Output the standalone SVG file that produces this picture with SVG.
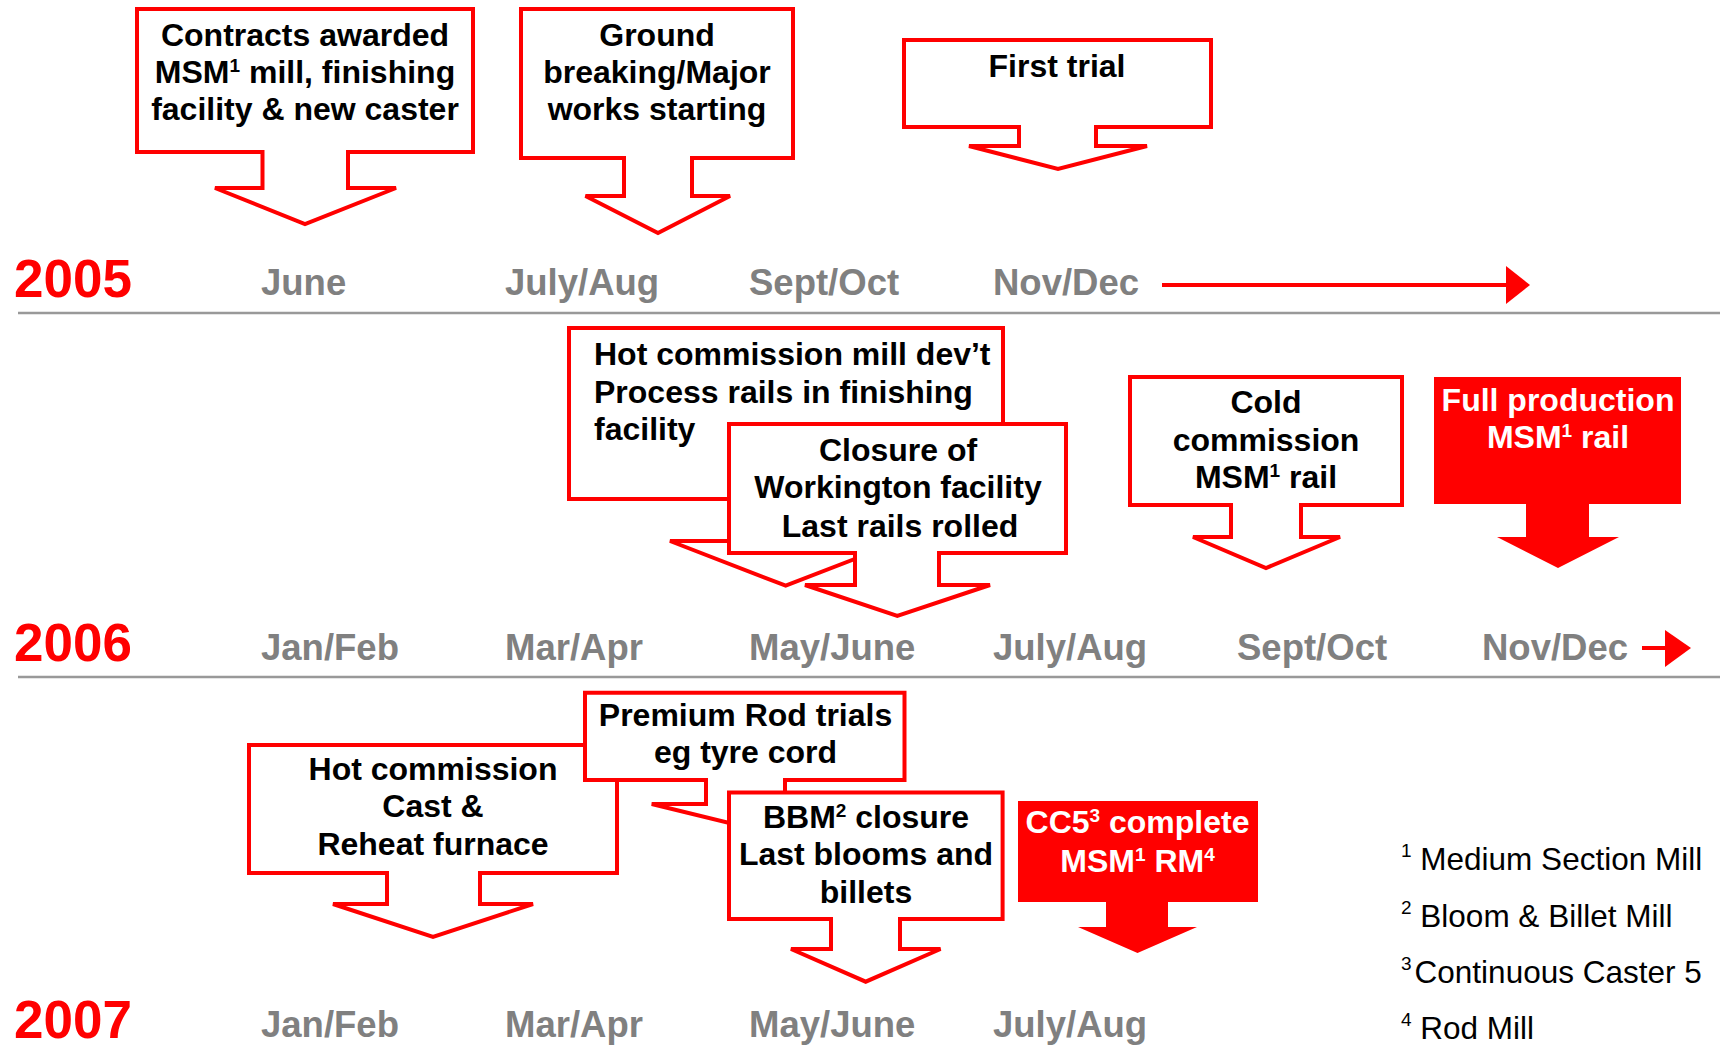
<svg xmlns="http://www.w3.org/2000/svg" width="1729" height="1045" viewBox="0 0 1729 1045">
<style>
.co{fill:#fff;stroke:#ff0000;stroke-width:4;stroke-linejoin:miter}
.cf{fill:#ff0000;stroke:none}
.t{font-family:"Liberation Sans",Arial,sans-serif;font-weight:bold;font-size:32px;fill:#000;text-anchor:middle}
.tl{text-anchor:start}
.tw{fill:#fff}
.yr{font-family:"Liberation Sans",Arial,sans-serif;font-weight:bold;font-size:53px;fill:#ff0000}
.mo{font-family:"Liberation Sans",Arial,sans-serif;font-weight:bold;font-size:36.5px;fill:#808080}
.sep{stroke:#999;stroke-width:2.5}
.lg{font-family:"Liberation Sans",Arial,sans-serif;font-size:31.5px;fill:#000}
.sup{font-size:19px}
.sb{font-size:19px}
</style>
<rect width="1729" height="1045" fill="#fff"/>

<g id="timeline">
<text class="yr" x="14" y="297">2005</text>
<text class="mo" x="261" y="295">June</text>
<text class="mo" x="505" y="295">July/Aug</text>
<text class="mo" x="749" y="295">Sept/Oct</text>
<text class="mo" x="993" y="295">Nov/Dec</text>
<line class="sep" x1="18" y1="313" x2="1720" y2="313"/>

<text class="yr" x="14" y="661">2006</text>
<text class="mo" x="261" y="660">Jan/Feb</text>
<text class="mo" x="505" y="660">Mar/Apr</text>
<text class="mo" x="749" y="660">May/June</text>
<text class="mo" x="993" y="660">July/Aug</text>
<text class="mo" x="1237" y="660">Sept/Oct</text>
<text class="mo" x="1482" y="660">Nov/Dec</text>
<line class="sep" x1="18" y1="677" x2="1720" y2="677"/>

<text class="yr" x="14" y="1038">2007</text>
<text class="mo" x="261" y="1037">Jan/Feb</text>
<text class="mo" x="505" y="1037">Mar/Apr</text>
<text class="mo" x="749" y="1037">May/June</text>
<text class="mo" x="993" y="1037">July/Aug</text>
</g>

<g id="connectors">
<line x1="1162" y1="285" x2="1510" y2="285" stroke="#ff0000" stroke-width="4"/>
<polygon points="1506,266 1530,285 1506,304" fill="#ff0000"/>
<line x1="1642" y1="648" x2="1668" y2="648" stroke="#ff0000" stroke-width="4"/>
<polygon points="1665,630 1691,648 1665,667" fill="#ff0000"/>
</g>

<g id="contracts">
<path class="co" d="M137,9 H473 V152 H348 V188 H396 L305,224 L215,188 H262.5 V152 H137 Z"/>
<text class="t" x="305" y="46">Contracts awarded</text>
<text class="t" x="305" y="83">MSM<tspan class="sup" dy="-11">1</tspan><tspan dy="11"> mill, finishing</tspan></text>
<text class="t" x="305" y="120">facility &amp; new caster</text>
</g>

<g id="ground-breaking">
<path class="co" d="M521,9 H793 V158 H692 V196 H730 L658,233 L585.5,196 H624 V158 H521 Z"/>
<text class="t" x="657" y="46">Ground</text>
<text class="t" x="657" y="83">breaking/Major</text>
<text class="t" x="657" y="120">works starting</text>
</g>

<g id="first-trial">
<path class="co" d="M904,40 H1211 V127 H1096 V146 H1147 L1058,169 L969,146 H1019 V127 H904 Z"/>
<text class="t" x="1057" y="77">First trial</text>
</g>

<g id="hot-commission-mill">
<path class="co" d="M569,328 H1003 V499 H826 V541 H901.4 L785.7,585.7 L670,541 H745 V499 H569 Z"/>
<text class="t tl" x="594" y="365">Hot commission mill dev’t</text>
<text class="t tl" x="594" y="403">Process rails in finishing</text>
<text class="t tl" x="594" y="440">facility</text>
</g>

<g id="closure-workington">
<path class="co" d="M729,424 H1066 V553 H939 V585 H990 L897.3,616 L805,585 H855 V553 H729 Z"/>
<text class="t" x="898" y="461">Closure of</text>
<text class="t" x="898" y="498">Workington facility</text>
<text class="t" x="900" y="537">Last rails rolled</text>
</g>

<g id="cold-commission">
<path class="co" d="M1130,377 H1402 V505 H1301 V537 H1340 L1266,568 L1193,537 H1231 V505 H1130 Z"/>
<text class="t" x="1266" y="413">Cold</text>
<text class="t" x="1266" y="451">commission</text>
<text class="t" x="1266" y="488">MSM<tspan class="sup" dy="-11">1</tspan><tspan dy="11"> rail</tspan></text>
</g>

<g id="full-production">
<path class="cf" d="M1434,377 H1681 V504 H1589 V537 H1619 L1558,568 L1497,537 H1526 V504 H1434 Z"/>
<text class="t tw" x="1558" y="411">Full production</text>
<text class="t tw" x="1558" y="448">MSM<tspan class="sup" dy="-11">1</tspan><tspan dy="11"> rail</tspan></text>
</g>

<g id="hot-commission-cast">
<path class="co" d="M249,745 H617 V873 H480 V904 H533 L433,937 L333,904 H387 V873 H249 Z"/>
<text class="t" x="433" y="780">Hot commission</text>
<text class="t" x="433" y="817">Cast &amp;</text>
<text class="t" x="433" y="855">Reheat furnace</text>
</g>

<g id="premium-rod">
<path class="co" d="M585,692.7 H904.5 V780 H785 V804 H839.3 L745.5,827 L651.7,804 H706 V780 H585 Z"/>
<text class="t" x="745.5" y="726">Premium Rod trials</text>
<text class="t" x="745.5" y="763">eg tyre cord</text>
</g>

<g id="bbm-closure">
<path class="co" d="M729,792.5 H1002.6 V919 H900 V949 H940.5 L865.7,981.7 L791,949 H831 V919 H729 Z"/>
<text class="t" x="866" y="828">BBM<tspan class="sup" dy="-11">2</tspan><tspan dy="11"> closure</tspan></text>
<text class="t" x="866" y="865">Last blooms and</text>
<text class="t" x="866" y="903">billets</text>
</g>

<g id="cc5-complete">
<path class="cf" d="M1018,801 H1258 V902 H1168 V927 H1197 L1137.5,953 L1078,927 H1106 V902 H1018 Z"/>
<text class="t tw" x="1137.5" y="833">CC5<tspan class="sup" dy="-11">3</tspan><tspan dy="11"> complete</tspan></text>
<text class="t tw" x="1137.5" y="872">MSM<tspan class="sup" dy="-11">1</tspan><tspan dy="11"> RM</tspan><tspan class="sup" dy="-11">4</tspan></text>
</g>

<g id="legend">
<text class="lg" x="1401" y="870"><tspan class="sb" dy="-13">1</tspan><tspan dy="13"> Medium Section Mill</tspan></text>
<text class="lg" x="1401" y="927"><tspan class="sb" dy="-13">2</tspan><tspan dy="13"> Bloom &amp; Billet Mill</tspan></text>
<text class="lg" x="1401" y="983"><tspan class="sb" dy="-13">3</tspan><tspan dy="13" dx="3">Continuous Caster 5</tspan></text>
<text class="lg" x="1401" y="1039"><tspan class="sb" dy="-13">4</tspan><tspan dy="13"> Rod Mill</tspan></text>
</g>
</svg>
